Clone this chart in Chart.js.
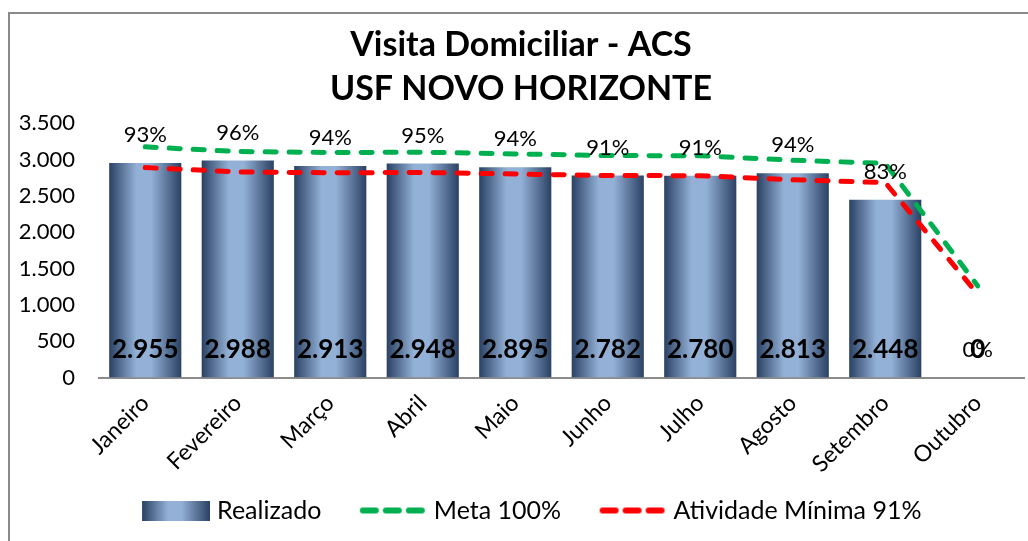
<!DOCTYPE html>
<html>
<head>
<meta charset="utf-8">
<script src="https://cdn.jsdelivr.net/npm/chart.js@4/dist/chart.umd.min.js"></script>
<style>
  html, body { margin: 0; padding: 0; background: #fff; }
  #wrap { width: 1028px; height: 541px; position: relative; }
</style>
</head>
<body>
<div id="wrap"><canvas id="visitaChart"></canvas></div>
<script>
const months = ["Janeiro", "Fevereiro", "Março", "Abril", "Maio", "Junho", "Julho", "Agosto", "Setembro", "Outubro"];
const realizado = [2955, 2988, 2913, 2948, 2895, 2782, 2780, 2813, 2448, 0];
const meta100 = [3177, 3112, 3099, 3103, 3080, 3057, 3055, 2993, 2949, 1262];
const minima91 = [2891, 2832, 2820, 2824, 2803, 2782, 2780, 2724, 2684, 1148];
const percentual = [93, 96, 94, 95, 94, 91, 91, 94, 83, 0];
const yTicks = [0, 500, 1000, 1500, 2000, 2500, 3000, 3500];

const FONT = "Lato";
const BAR_PCT = 0.78;
const LEGEND_BOX = 84;

// 2955 -> "2.955"
function fmt(v) {
    return String(v).replace(/\B(?=(\d{3})+(?!\d))/g, ".");
}

function addStops(g) {
    g.addColorStop(0, "#2a4163");
    g.addColorStop(0.38, "#93b1d6");
    g.addColorStop(0.58, "#93b1d6");
    g.addColorStop(1, "#2a4163");
    return g;
}

/**
 * Horizontal gradient for each bar, from dark edges to a light centre.
 */
function barGradient(c) {
    const chart = c.chart;
    const x = chart.scales.x;
    if (!x || c.dataIndex === undefined) return "#6f8db5";
    const center = x.getPixelForValue(c.dataIndex);
    const half = (x.getPixelForValue(1) - x.getPixelForValue(0)) * BAR_PCT / 2;
    return addStops(chart.ctx.createLinearGradient(center - half, 0, center + half, 0));
}

// legend symbols: canvas a bit wider than the legend box, symbol sits at its right end
function swatchCanvas(h) {
    const cv = document.createElement("canvas");
    cv.width = LEGEND_BOX + 11;
    cv.height = h;
    return cv;
}
function swatchBar() {
    const cv = swatchCanvas(20);
    const g = cv.getContext("2d");
    const x0 = cv.width - 68;
    g.fillStyle = addStops(g.createLinearGradient(x0, 0, x0 + 68, 0));
    g.fillRect(x0, 0, 68, 20);
    return cv;
}
function swatchDash(color) {
    const cv = swatchCanvas(8);
    const g = cv.getContext("2d");
    const x0 = cv.width - 68;
    g.strokeStyle = color;
    g.lineWidth = 6;
    g.lineCap = "round";
    [[4, 17], [27, 40], [50, 63]].forEach(([a, b]) => {
        g.beginPath();
        g.moveTo(x0 + a, 4);
        g.lineTo(x0 + b, 4);
        g.stroke();
    });
    return cv;
}

const valueLabels = {
    id: "valueLabels",
    afterDatasetsDraw(chart) {
        const ctx = chart.ctx;
        const bars = chart.getDatasetMeta(0).data;
        const yScale = chart.scales.y;
        ctx.save();
        ctx.textAlign = "center";
        ctx.textBaseline = "middle";
        ctx.fillStyle = "#000";
        bars.forEach((bar, i) => {
            ctx.font = "22px " + FONT;
            ctx.fillText(percentual[i] + "%", bar.x, bar.y - 28);
            ctx.font = "bold 26px " + FONT;
            ctx.fillText(fmt(realizado[i]), bar.x, yScale.getPixelForValue(0) - 28);
        });
        ctx.restore();
    }
};

const frame = {
    id: "frame",
    afterDraw(chart) {
        const ctx = chart.ctx;
        ctx.save();
        ctx.strokeStyle = "#8a8a8a";
        ctx.lineWidth = 2;
        ctx.strokeRect(9, 13, chart.width + 10, chart.height + 10);
        ctx.restore();
    }
};

const chart = new Chart(document.getElementById("visitaChart").getContext("2d"), {
    type: "bar",
    data: {
        labels: months,
        datasets: [
            {
                label: "Realizado",
                data: realizado,
                backgroundColor: barGradient,
                barPercentage: BAR_PCT,
                categoryPercentage: 1,
                order: 3,
            },
            {
                type: "line",
                label: "Meta 100%",
                data: meta100,
                borderColor: "#00b050",
                borderWidth: 5,
                borderDash: [11, 13],
                borderCapStyle: "round",
                pointRadius: 0,
                tension: 0,
                fill: false,
                order: 2,
            },
            {
                type: "line",
                label: "Atividade Mínima 91%",
                data: minima91,
                borderColor: "#ff0000",
                borderWidth: 5,
                borderDash: [11, 13],
                borderCapStyle: "round",
                pointRadius: 0,
                tension: 0,
                fill: false,
                order: 1,
            },
        ],
    },
    options: {
        responsive: true,
        maintainAspectRatio: false,
        animation: false,
        layout: { padding: { top: 12, left: 18, right: 4, bottom: 8 } },
        scales: {
            x: {
                grid: { display: false },
                border: { color: "#8c8c8c", width: 2 },
                ticks: {
                    color: "#000",
                    font: { family: FONT, size: 23 },
                    maxRotation: 45,
                    minRotation: 45,
                    padding: 4,
                },
                afterFit: (axis) => {
                    axis.paddingLeft = 0;
                    axis.paddingRight = 0;
                },
            },
            y: {
                min: 0,
                max: 3500,
                afterBuildTicks: (axis) => {
                    axis.ticks = yTicks.map((v) => ({ value: v }));
                },
                afterFit: (axis) => {
                    axis.width = 81;
                },
                grid: { display: false, drawTicks: false },
                border: { display: false },
                ticks: {
                    color: "#000",
                    font: { family: FONT, size: 22 },
                    padding: 24,
                    callback: (v) => fmt(v),
                },
            },
        },
        plugins: {
            title: {
                display: true,
                text: ["Visita Domiciliar - ACS", "USF NOVO HORIZONTE"],
                color: "#000",
                font: { family: FONT, size: 34, weight: "bold", lineHeight: 1.3 },
                padding: { top: 11, bottom: 12 },
            },
            legend: {
                position: "bottom",
                labels: {
                    usePointStyle: true,
                    pointStyleWidth: LEGEND_BOX,
                    color: "#000",
                    font: { family: FONT, size: 25 },
                    padding: 16,
                    generateLabels: (ch) => ch.data.datasets.map((ds, i) => ({
                        text: ds.label,
                        pointStyle: i === 0 ? swatchBar() : swatchDash(ds.borderColor),
                        fillStyle: "transparent",
                        strokeStyle: "transparent",
                        lineWidth: 0,
                        hidden: false,
                        datasetIndex: i,
                        fontColor: "#000",
                    })),
                },
            },
            tooltip: { enabled: false },
        },
    },
    plugins: [valueLabels, frame],
});
</script>
</body>
</html>
